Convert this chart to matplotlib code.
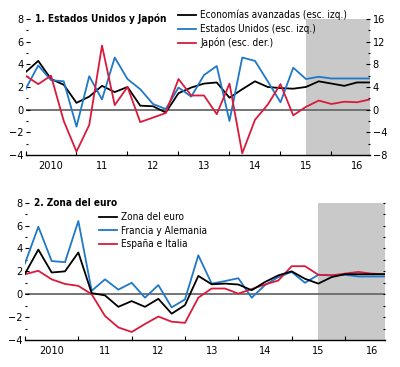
import numpy as np
from matplotlib import pyplot as plt
from matplotlib import font_manager
from matplotlib.ticker import MultipleLocator, FixedLocator

# narrow font if there is one
names = set(f.name for f in font_manager.fontManager.ttflist)
narrow = [f for f in font_manager.fontManager.ttflist
          if f.name == 'DejaVu Sans' and f.stretch in ('condensed', 600, 'semi-condensed')]
if 'Liberation Sans Narrow' in names:
    plt.rcParams['font.family'] = ['Liberation Sans Narrow', 'DejaVu Sans']
elif narrow:
    plt.rcParams['font.family'] = ['DejaVu Sans']
    plt.rcParams['font.stretch'] = 'condensed'
else:
    plt.rcParams['font.family'] = ['Liberation Sans', 'DejaVu Sans']

# quarters 2010Q1 .. 2016Q4
quarters = 2010 + np.arange(28) / 4.0
years = [2010, 2011, 2012, 2013, 2014, 2015, 2016]
year_labels = ['2010', '11', '12', '13', '14', '15', '16']

# panel 1 (left scale for advanced / US, right scale for Japan)
avanzadas = [3.3, 4.3, 2.7, 2.2, 0.6, 1.15, 2.1, 1.55, 2.0, 0.35, 0.3, -0.25, 1.45, 1.95,
             2.3, 2.4, 1.05, 1.8, 2.5, 2.0, 1.9, 1.85, 2.0, 2.5, 2.3, 2.1, 2.4, 2.4]
eeuu = [1.8, 3.9, 2.6, 2.5, -1.5, 2.95, 0.9, 4.6, 2.7, 1.8, 0.5, 0.05, 1.95, 1.15,
        3.05, 3.85, -1.0, 4.6, 4.3, 2.5, 0.65, 3.7, 2.7, 2.9, 2.75, 2.75, 2.75, 2.75]
japon = [6.0, 4.5, 6.0, -2.0, -7.4, -2.7, 11.3, 0.8, 4.0, -2.2, -1.4, -0.6, 5.4, 2.5,
         2.5, -0.8, 4.6, -7.7, -1.8, 0.9, 4.5, -1.0, 0.5, 1.6, 1.0, 1.4, 1.3, 1.8]

# panel 2
zona_euro = [1.8, 3.9, 1.9, 2.0, 3.65, 0.1, -0.1, -1.1, -0.6, -1.1, -0.4, -1.7, -0.95, 1.6,
             0.87, 0.93, 0.85, 0.35, 1.07, 1.65, 2.0, 1.35, 0.93, 1.5, 1.75, 1.75, 1.75, 1.75]
fr_al = [2.7, 5.9, 2.9, 2.8, 6.4, 0.3, 1.3, 0.4, 1.0, -0.3, 0.8, -1.15, -0.45, 3.4,
         0.93, 1.15, 1.4, -0.3, 0.8, 1.5, 1.95, 1.0, 1.7, 1.65, 1.7, 1.55, 1.55, 1.55]
es_it = [1.75, 2.05, 1.3, 0.9, 0.73, 0.0, -1.9, -2.9, -3.3, -2.6, -1.95, -2.4, -2.5, -0.3,
         0.5, 0.5, 0.05, 0.45, 0.85, 1.2, 2.45, 2.45, 1.7, 1.65, 1.8, 1.95, 1.8, 1.75]

black = '#000000'
blue = '#1f78c8'
red = '#d91a3c'
shade = '#c9c9c9'
lw = 1.3
fs = 7.8     # tick labels
fs_txt = 7.2  # titles and legends


def style_axis(ax):
    # common look: only bottom spine, year ticks, shaded projection
    for s in ['top', 'left', 'right']:
        ax.spines[s].set_visible(False)
    ax.spines['bottom'].set_linewidth(1.0)
    ax.set_xlim(2010, 2016.75)
    ax.set_ylim(-4, 8)
    ax.axvspan(2015.5, 2016.75, color=shade, lw=0, zorder=0)
    ax.axhline(0, color='#6a6a6a', lw=1.3, zorder=1)
    ax.xaxis.set_major_locator(FixedLocator(years))
    ax.xaxis.set_minor_locator(FixedLocator([y + 0.5 for y in years]))
    ax.set_xticklabels([], minor=False)
    ax.set_xticklabels(year_labels, minor=True)
    ax.tick_params(axis='x', which='major', direction='in', length=3, width=0.8)
    ax.tick_params(axis='x', which='minor', length=0, pad=4, labelsize=fs)
    ax.yaxis.set_major_locator(MultipleLocator(2))
    ax.yaxis.set_minor_locator(MultipleLocator(1))
    ax.tick_params(axis='y', which='major', direction='in', length=3, width=0.8,
                   pad=1.5, labelsize=fs)
    ax.tick_params(axis='y', which='minor', direction='in', length=1.2, width=0.8)
    ax.set_yticks(range(-4, 9, 2))
    ax.set_yticklabels(['\u22124', '\u22122', '0', '2', '4', '6', '8'])


fig = plt.figure(figsize=(4.0, 3.67), dpi=100)

# panel 1
ax1 = fig.add_axes([0.06375, 0.5777, 0.8606, 0.3706])
style_axis(ax1)
l1, = ax1.plot(quarters, avanzadas, color=black, lw=lw, zorder=3)
l2, = ax1.plot(quarters, eeuu, color=blue, lw=lw, zorder=3)

ax1r = ax1.twinx()
for s in ['top', 'left', 'right', 'bottom']:
    ax1r.spines[s].set_visible(False)
ax1r.set_ylim(-8, 16)
l3, = ax1r.plot(quarters, japon, color=red, lw=lw, zorder=3)
ax1r.yaxis.set_major_locator(MultipleLocator(4))
ax1r.yaxis.set_minor_locator(MultipleLocator(2))
ax1r.set_yticks(range(-8, 17, 4))
ax1r.set_yticklabels(['\u22128', '\u22124', '0', '4', '8', '12', '16'])
ax1r.tick_params(axis='y', which='major', direction='in', length=3, width=0.8,
                 pad=2, labelsize=fs)
ax1r.tick_params(axis='y', which='minor', direction='in', length=1.2, width=0.8)

fig.text(35 / 400, 1 - 19 / 367, '1. Estados Unidos y Japón', fontsize=fs_txt,
         fontweight='bold', va='center', ha='left')
fig.legend([l1, l2, l3],
           ['Economías avanzadas (esc. izq.)', 'Estados Unidos (esc. izq.)',
            'Japón (esc. der.)'],
           loc='upper left', bbox_to_anchor=(178 / 400, 1 - 10 / 367), frameon=False,
           fontsize=fs_txt, handlelength=1.8, handletextpad=0.4, labelspacing=0.35,
           borderaxespad=0, borderpad=0)

# panel 2
ax2 = fig.add_axes([0.0625, 0.07357, 0.9, 0.3741])
style_axis(ax2)
m1, = ax2.plot(quarters, zona_euro, color=black, lw=lw, zorder=4)
m2, = ax2.plot(quarters, fr_al, color=blue, lw=lw, zorder=3)
m3, = ax2.plot(quarters, es_it, color=red, lw=lw, zorder=3)

# right side of panel 2 only has small tick marks
ax2r = ax2.twinx()
for s in ['top', 'left', 'right', 'bottom']:
    ax2r.spines[s].set_visible(False)
ax2r.set_ylim(-4, 8)
ax2r.yaxis.set_major_locator(MultipleLocator(1))
ax2r.tick_params(axis='y', direction='in', length=1.5, width=0.8, labelright=False)

fig.text(34 / 400, 1 - 203 / 367, '2. Zona del euro', fontsize=fs_txt,
         fontweight='bold', va='center', ha='left')
fig.legend([m1, m2, m3], ['Zona del euro', 'Francia y Alemania', 'España e Italia'],
           loc='upper left', bbox_to_anchor=(99 / 400, 1 - 212 / 367), frameon=False,
           fontsize=fs_txt, handlelength=1.8, handletextpad=0.4, labelspacing=0.35,
           borderaxespad=0, borderpad=0)

fig.savefig('out.png', dpi=100)
